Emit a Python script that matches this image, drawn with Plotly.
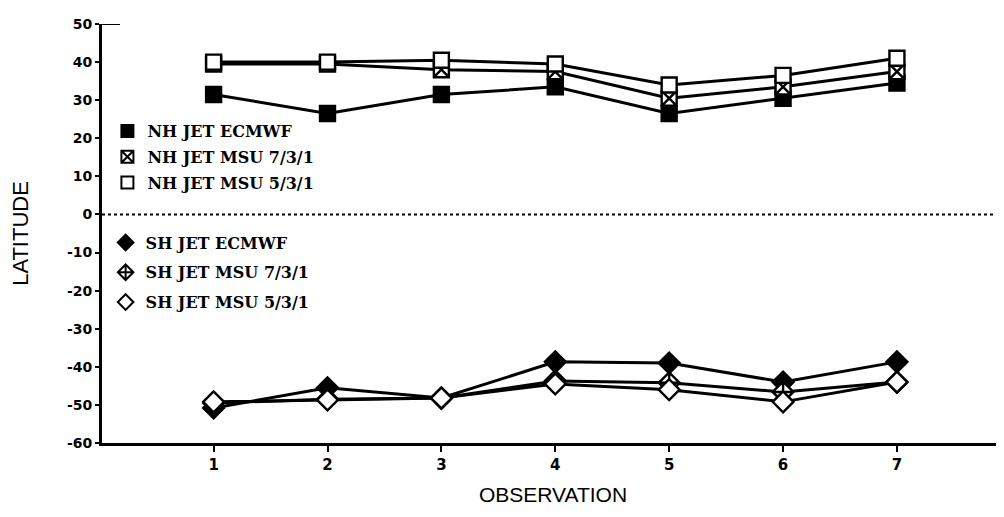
import plotly.graph_objects as go

observations = [1, 2, 3, 4, 5, 6, 7]

nh_ecmwf = [31.5, 26.5, 31.5, 33.5, 26.5, 30.5, 34.5]
nh_msu_731 = [39.5, 39.5, 38.0, 37.5, 30.5, 33.5, 37.5]
nh_msu_531 = [40.0, 40.0, 40.5, 39.5, 34.0, 36.5, 41.0]

sh_ecmwf = [-50.8, -45.5, -48.2, -38.7, -39.0, -44.0, -38.7]
sh_msu_731 = [-49.5, -48.5, -48.2, -43.7, -44.2, -46.6, -44.0]
sh_msu_531 = [-49.2, -48.7, -48.2, -44.5, -46.0, -49.2, -44.0]

y_tick_vals = [50, 40, 30, 20, 10, 0, -10, -20, -30, -40, -50, -60]
y_tick_text = ["50", "40", "30", "20", "10", "0", "-10", "-20", "-30", "-40", "-50", "-60"]
x_tick_vals = [1, 2, 3, 4, 5, 6, 7]
x_tick_text = ["1", "2", "3", "4", "5", "6", "7"]

series = [
    ("NH JET ECMWF", nh_ecmwf, "square", "black", "legend"),
    ("NH JET MSU 7/3/1", nh_msu_731, "square-x", "white", "legend"),
    ("NH JET MSU 5/3/1", nh_msu_531, "square", "white", "legend"),
    ("SH JET ECMWF", sh_ecmwf, "diamond", "black", "legend2"),
    ("SH JET MSU 7/3/1", sh_msu_731, "diamond-cross", "white", "legend2"),
    ("SH JET MSU 5/3/1", sh_msu_531, "diamond", "white", "legend2"),
]

fig = go.Figure()
for i, (name, vals, sym, fill, leg) in enumerate(series):
    msize = 15 if sym.startswith("square") else 16
    fig.add_trace(go.Scatter(
        x=observations, y=vals, mode="lines+markers", name=name,
        line=dict(color="black", width=3),
        marker=dict(symbol=sym, size=msize, color=fill,
                    line=dict(color="black", width=2.4)),
        showlegend=False, cliponaxis=False,
    ))
    # legend-only entry (marker without line)
    fig.add_trace(go.Scatter(
        x=[None], y=[None], mode="markers", name=name,
        marker=dict(symbol=sym, size=msize, color=fill,
                    line=dict(color="black", width=2.4)),
        legend=leg, legendgroup=f"g{i}", showlegend=True,
    ))

# dotted zero line
fig.add_shape(type="line", xref="paper", yref="y", x0=0, x1=1, y0=0, y1=0,
              line=dict(color="black", width=2, dash="dot"))
# short top cap line
fig.add_shape(type="line", xref="paper", yref="y", x0=0, x1=0.02, y0=50, y1=50,
              line=dict(color="black", width=2))

legend_font = dict(family="DejaVu Serif", size=16, color="black", weight="bold")

fig.update_layout(
    width=996, height=509,
    margin=dict(l=94, r=0, t=16, b=74, autoexpand=False),
    paper_bgcolor="white", plot_bgcolor="white",
    showlegend=True,
    legend=dict(x=0.006, y=0.785, xanchor="left", yanchor="top",
                bgcolor="rgba(0,0,0,0)", font=legend_font,
                itemsizing="constant", traceorder="grouped", tracegroupgap=2),
    legend2=dict(x=0.004, y=0.519, xanchor="left", yanchor="top",
                 bgcolor="rgba(0,0,0,0)", font=legend_font,
                 itemsizing="constant", traceorder="grouped", tracegroupgap=6),
    xaxis=dict(range=[0.02, 7.94], tickvals=x_tick_vals, ticktext=x_tick_text,
               automargin=False,
               showgrid=False, zeroline=False, showline=True,
               linecolor="black", linewidth=3, ticks="outside", ticklen=6,
               tickwidth=2, tickcolor="black",
               tickfont=dict(family="DejaVu Sans", size=15, color="black", weight="bold"),
               title=dict(text="OBSERVATION", standoff=15,
                          font=dict(family="Liberation Sans", size=21, color="black"))),
    yaxis=dict(range=[-60, 50], tickvals=y_tick_vals, ticktext=y_tick_text,
               automargin=False,
               showgrid=False, zeroline=False, showline=True,
               linecolor="black", linewidth=3, ticks="outside", ticklen=4,
               tickwidth=2, tickcolor="black",
               tickfont=dict(family="DejaVu Sans", size=14, color="black", weight="bold"),
               title=dict(text="LATITUDE", standoff=36,
                          font=dict(family="Liberation Sans", size=22, color="black"))),
)

fig.write_html("out.html")
